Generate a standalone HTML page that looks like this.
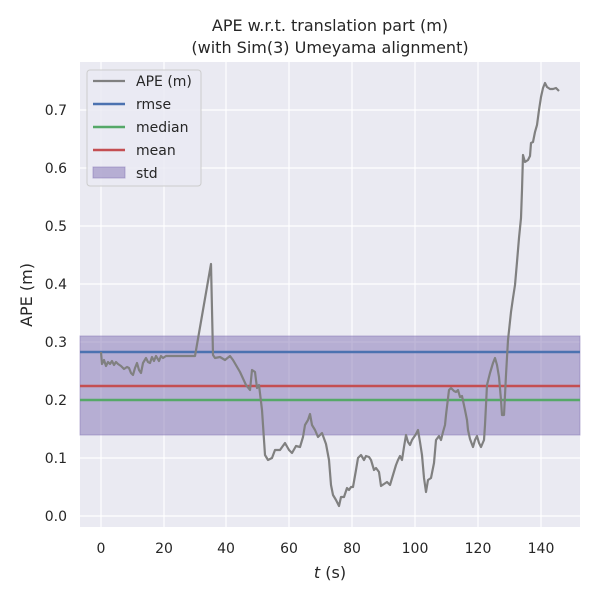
<!DOCTYPE html>
<html><head><meta charset="utf-8"><style>body{margin:0;background:#fff}svg{display:block}text{font-family:"DejaVu Sans","Liberation Sans",sans-serif;fill:#262626}</style></head><body>
<svg width="600" height="600" viewBox="0 0 600 600">
<rect x="80" y="62" width="500" height="465" fill="#eaeaf2"/>
<g stroke="#fff" stroke-width="1.2">
<line x1="101" y1="62" x2="101" y2="527"/><line x1="164" y1="62" x2="164" y2="527"/><line x1="226" y1="62" x2="226" y2="527"/><line x1="289" y1="62" x2="289" y2="527"/><line x1="352" y1="62" x2="352" y2="527"/><line x1="415" y1="62" x2="415" y2="527"/><line x1="478" y1="62" x2="478" y2="527"/><line x1="541" y1="62" x2="541" y2="527"/>
<line x1="80" y1="516" x2="580" y2="516"/><line x1="80" y1="458" x2="580" y2="458"/><line x1="80" y1="400" x2="580" y2="400"/><line x1="80" y1="342" x2="580" y2="342"/><line x1="80" y1="284" x2="580" y2="284"/><line x1="80" y1="226" x2="580" y2="226"/><line x1="80" y1="168" x2="580" y2="168"/><line x1="80" y1="110" x2="580" y2="110"/>
</g>
<rect x="80" y="336" width="500" height="99" fill="#8172b3" fill-opacity="0.5" stroke="#8172b3" stroke-opacity="0.5"/>
<line x1="80" y1="352" x2="580" y2="352" stroke="#4c72b0" stroke-width="2.5"/>
<line x1="80" y1="386" x2="580" y2="386" stroke="#c44e52" stroke-width="2.5"/>
<line x1="80" y1="400" x2="580" y2="400" stroke="#55a868" stroke-width="2.5"/>
<polyline fill="none" stroke="#808080" stroke-width="2.2" stroke-linejoin="round" points="101,352 102,364 104,360 106,366 108,362 110,364 112,361 114,365 116,362 118,364 121,366 124,369 127,367 129,368 131,373 133,375 135,368 137,363 139,370 141,373 143,363 146,358 148,362 150,363 152,357 154,361 156,356 159,361 161,356 163,358 166,356 195,356 211,264 213,355 215,358 220,357 225,360 230,356 233,360 240,372 246,385 250,390 252,370 255,372 257,388 259,385 262,410 264,440 265,455 268,460 272,458 275,450 280,450 285,443 289,450 292,453 296,446 300,447 303,437 305,425 308,420 310,414 312,425 315,430 318,437 322,433 326,444 329,460 331,485 333,495 336,500 339,506 341,497 344,497 347,488 349,490 351,487 353,487 356,470 358,458 361,455 364,460 366,456 369,457 371,460 374,470 376,468 379,472 381,486 384,484 387,482 390,485 393,475 396,465 398,460 400,456 402,460 404,447 406,435 408,442 410,445 412,440 416,434 418,430 420,442 422,455 424,478 426,492 428,480 431,478 434,463 436,440 439,436 441,440 443,432 445,425 446,415 449,390 451,388 454,391 456,392 458,390 460,397 462,396 465,410 467,420 468,430 470,439 473,447 475,440 477,436 479,443 481,447 484,440 485,425 487,385 490,373 493,363 495,358 497,365 499,377 501,400 502,415 504,415 506,375 508,340 511,312 513,298 515,285 517,262 519,238 521,218 522,190 523,155 525,162 528,160 530,156 531,143 533,142 535,132 537,125 539,110 541,97 543,88 545,83 547,87 550,89 553,89 556,88 559,91"/>
<rect x="87" y="70" width="114" height="116" rx="3" fill="#eaeaf2" fill-opacity="0.8" stroke="#cccccc"/>
<line x1="93" y1="81" x2="125" y2="81" stroke="#808080" stroke-width="2.2"/>
<line x1="93" y1="104" x2="125" y2="104" stroke="#4c72b0" stroke-width="2.5"/>
<line x1="93" y1="127" x2="125" y2="127" stroke="#55a868" stroke-width="2.5"/>
<line x1="93" y1="150" x2="125" y2="150" stroke="#c44e52" stroke-width="2.5"/>
<rect x="93" y="167" width="32" height="11" fill="#8172b3" fill-opacity="0.5" stroke="#8172b3" stroke-opacity="0.5"/>
<g font-size="14"><text x="136" y="86">APE (m)</text><text x="136" y="109">rmse</text><text x="136" y="132">median</text><text x="136" y="155">mean</text><text x="136" y="178">std</text></g>
<g font-size="14" text-anchor="end"><text x="67" y="521">0.0</text><text x="67" y="463">0.1</text><text x="67" y="405">0.2</text><text x="67" y="347">0.3</text><text x="67" y="289">0.4</text><text x="67" y="231">0.5</text><text x="67" y="173">0.6</text><text x="67" y="115">0.7</text></g>
<g font-size="14" text-anchor="middle"><text x="101" y="553">0</text><text x="164" y="553">20</text><text x="226" y="553">40</text><text x="289" y="553">60</text><text x="352" y="553">80</text><text x="415" y="553">100</text><text x="478" y="553">120</text><text x="541" y="553">140</text></g>
<text x="330" y="578" font-size="16" text-anchor="middle"><tspan font-style="italic">t</tspan> (s)</text>
<text transform="translate(32,295) rotate(-90)" font-size="16" text-anchor="middle">APE (m)</text>
<text x="330" y="31" font-size="16" text-anchor="middle">APE w.r.t. translation part (m)</text>
<text x="330" y="53" font-size="16" text-anchor="middle">(with Sim(3) Umeyama alignment)</text>
</svg>
</body></html>
